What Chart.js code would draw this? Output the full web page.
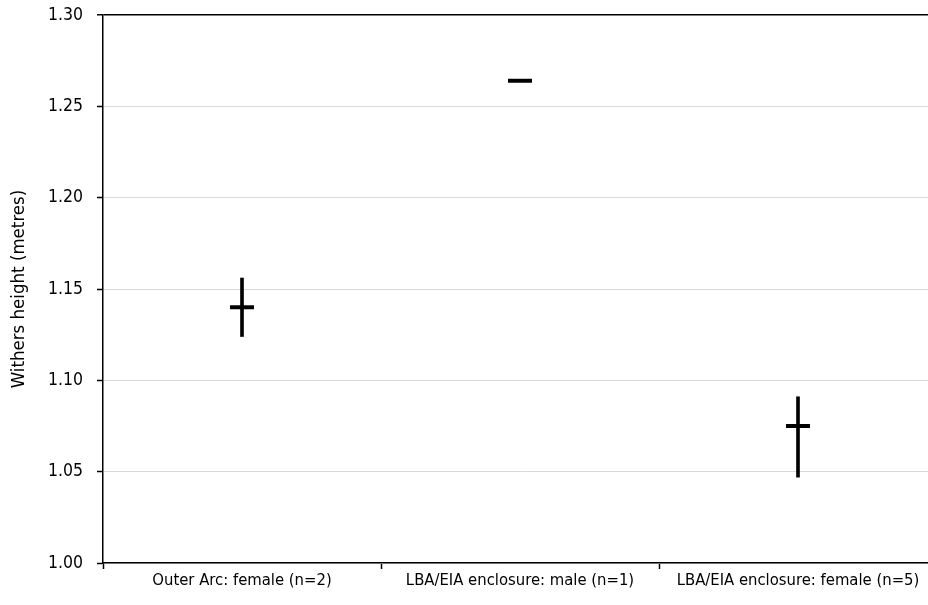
<!DOCTYPE html>
<html>
<head>
    <title>Withers height</title>
    <script src="https://cdn.jsdelivr.net/npm/chart.js"></script>
    <style>
        html, body { margin: 0; padding: 0; background: #fff; overflow: hidden; }
        /* the plot runs a little past the right edge in the original, so the canvas is cropped */
        #wrap { width: 928px; height: 605px; overflow: hidden; }
    </style>
</head>
<body>
<div id="wrap"><canvas id="myChart" width="937" height="605"></canvas></div>
    <script>
        // data
        var groups = ['Outer Arc: female (n=2)', 'LBA/EIA enclosure: male (n=1)', 'LBA/EIA enclosure: female (n=5)'];
        var means = [1.140, 1.264, 1.075];
        var mins = [1.124, null, 1.047];
        var maxs = [1.156, null, 1.091];
        var yTicks = [1.00, 1.05, 1.10, 1.15, 1.20, 1.25, 1.30];

        var narrow = "'Liberation Sans Narrow', 'DejaVu Sans Condensed', 'Liberation Sans', sans-serif";

        // min/max as floating bars
        var ranges = mins.map(function(m, i) { return m === null ? null : [m, maxs[i]]; });

        var ctx = document.getElementById('myChart').getContext('2d');
        var myChart = new Chart(ctx, {
            data: {
                labels: groups,
                datasets: [{
                    type: 'bar',
                    label: 'Range',
                    data: ranges,
                    backgroundColor: '#000',
                    barThickness: 3
                }, {
                    type: 'line',
                    label: 'Mean',
                    data: means,
                    showLine: false,
                    pointStyle: 'line',
                    pointRadius: 12,
                    pointBorderWidth: 4,
                    borderColor: '#000',
                    backgroundColor: '#000'
                }]
            },
            options: {
                responsive: false,
                animation: false,
                layout: { autoPadding: false, padding: { top: 15, right: 0, left: 0, bottom: 0 } },
                plugins: {
                    legend: { display: false },
                    tooltip: { enabled: false }
                },
                scales: {
                    x: {
                        offset: true,
                        grid: {
                            offset: true,
                            drawOnChartArea: false,
                            tickLength: 6,
                            tickColor: '#000',
                            tickWidth: 1.5
                        },
                        border: { color: '#000', width: 1.5 },
                        ticks: {
                            color: '#000',
                            padding: 2,
                            maxRotation: 0,
                            autoSkip: false,
                            font: { family: narrow, size: 16.5 }
                        },
                        afterFit: function(scale) {
                            scale.height = 42;
                            scale.paddingLeft = 0;
                            scale.paddingRight = 0;
                        }
                    },
                    y: {
                        min: 1.0,
                        max: 1.3,
                        afterBuildTicks: function(scale) {
                            scale.ticks = yTicks.map(function(v) { return { value: v }; });
                        },
                        grid: {
                            color: function(c) { return c.tick && Math.abs(c.tick.value - 1.3) < 1e-9 ? '#000' : '#d9d9d9'; },
                            lineWidth: function(c) { return c.tick && Math.abs(c.tick.value - 1.3) < 1e-9 ? 1.5 : 1; },
                            tickLength: 6,
                            tickColor: '#000',
                            tickWidth: 1.5
                        },
                        border: { color: '#000', width: 1.5 },
                        ticks: {
                            color: '#000',
                            padding: 14,
                            font: { family: narrow, size: 17.5 },
                            callback: function(v) { return Number(v).toFixed(2); }
                        },
                        title: {
                            display: true,
                            text: 'Withers height (metres)',
                            color: '#000',
                            padding: { top: 8, bottom: 0 },
                            font: { family: narrow, size: 18.5 }
                        },
                        afterFit: function(scale) {
                            scale.width = 103;
                            scale.paddingTop = 0;
                            scale.paddingBottom = 0;
                        }
                    }
                }
            }
        });
    </script>
</body>
</html>
